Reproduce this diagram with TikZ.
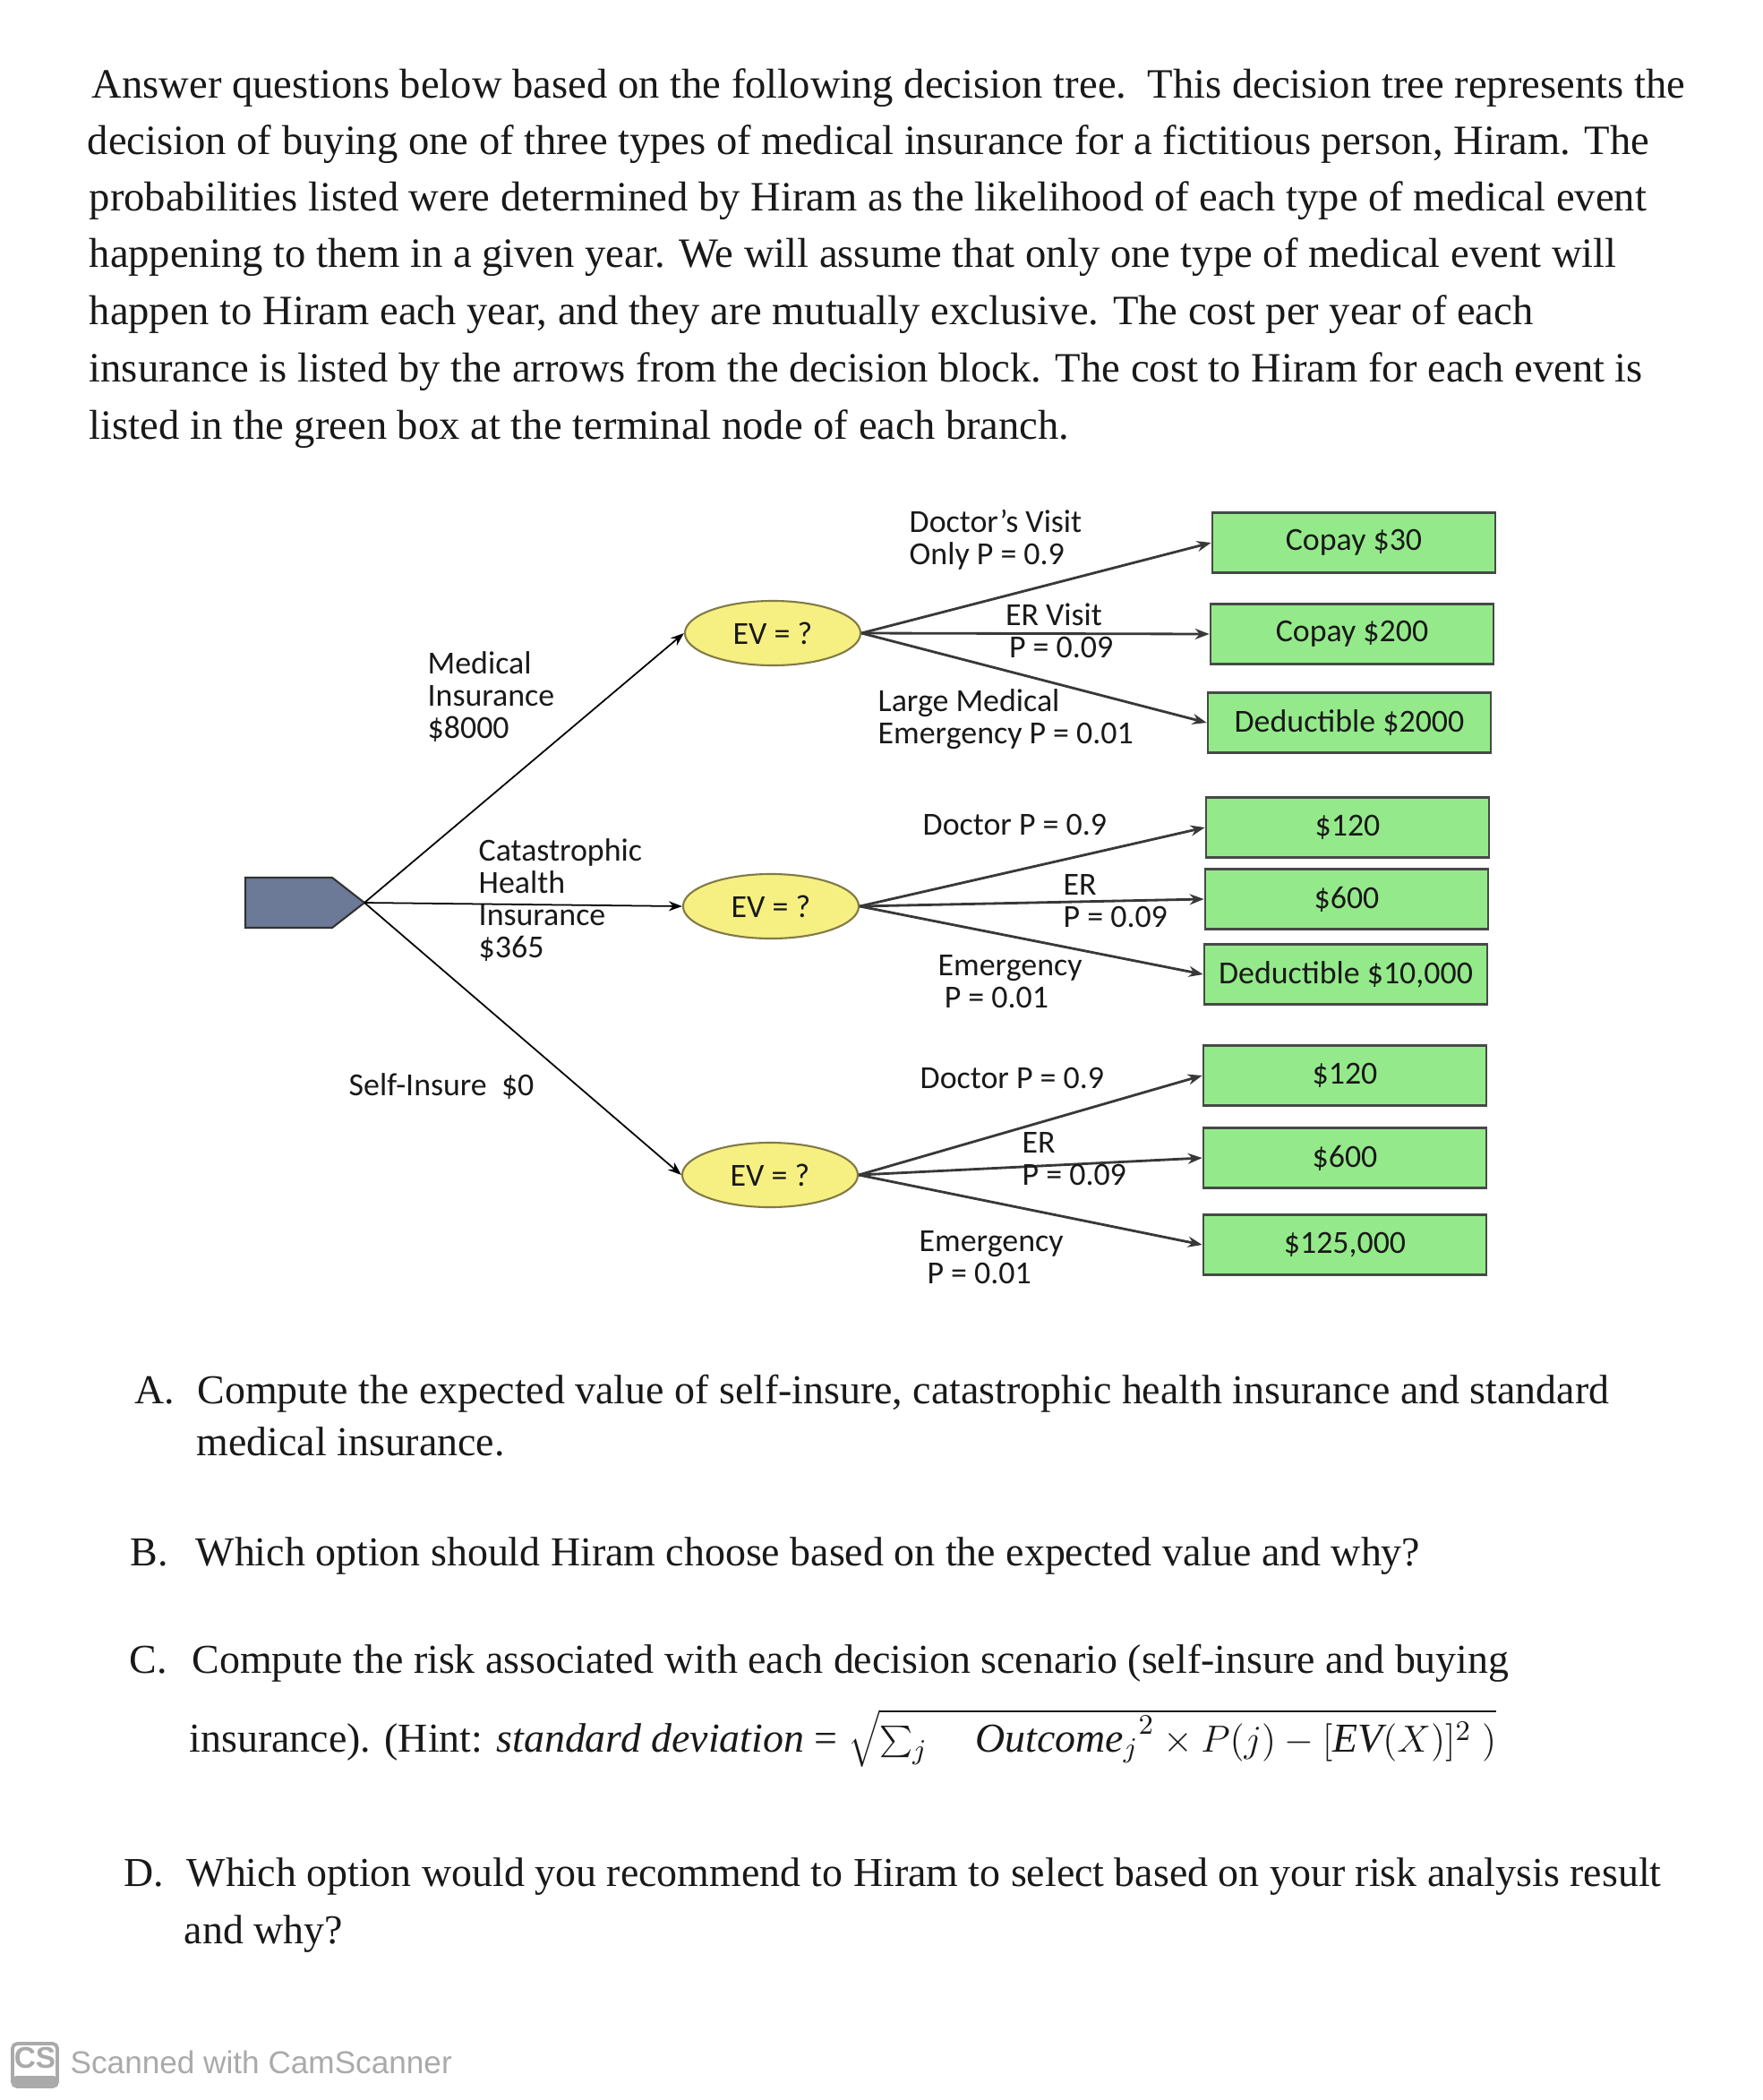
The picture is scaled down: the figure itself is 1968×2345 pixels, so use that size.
\documentclass[tikz,border=0pt]{standalone}
\usepackage{fontspec}
\setmainfont{Liberation Serif}
\newfontfamily\calib{Carlito}
\newfontfamily\camfont{Liberation Sans}
\usetikzlibrary{arrows.meta,shapes.geometric}
\definecolor{evfill}{RGB}{246,240,130}
\definecolor{evdraw}{RGB}{130,122,70}
\definecolor{boxfill}{RGB}{148,234,138}
\definecolor{boxdraw}{RGB}{70,74,70}
\definecolor{decfill}{RGB}{108,122,152}
\definecolor{ink}{RGB}{25,25,25}
\definecolor{camgray}{RGB}{170,170,170}
\begin{document}
\begin{tikzpicture}[x=0.01cm,y=-0.01cm,
  body/.style={anchor=base west, inner sep=0, text=ink, font=\fontsize{13.25}{15}\selectfont},
  quest/.style={anchor=base west, inner sep=0, text=ink, font=\fontsize{13.05}{15}\selectfont},
  lbl/.style={font=\calib\fontsize{10.2}{10.2}\selectfont, inner sep=0, align=left, anchor=west, text=ink},
  evnode/.style={ellipse, draw=evdraw, fill=evfill, line width=0.6pt, minimum width=1.96cm, minimum height=0.72cm, inner sep=0, font=\calib\fontsize{10.2}{12}\selectfont, text=ink},
  term/.style={rectangle, draw=boxdraw, fill=boxfill, line width=0.7pt, minimum width=3.16cm, minimum height=0.67cm, inner sep=0, font=\calib\fontsize{10.2}{12}\selectfont, text=ink},
  mainarrow/.style={-{Stealth[length=0.15cm,width=0.11cm]}, line width=0.5pt, draw=black},
  brancharrow/.style={-{Stealth[length=0.16cm,width=0.12cm]}, line width=0.8pt, draw=black!78}
]
\fill[white] (0,0) rectangle (1968,2345);
\useasboundingbox (0,0) rectangle (1968,2345);

% ---- paragraph ----
\node[body] (p1) at (102,109) {Answer questions below based on the following decision tree.\ \ This decision tree represents the};
\node[body] (p2) at (97,172) {decision of buying one of three types of medical insurance for a fictitious person, Hiram. The};
\node[body] (p3) at (99,235) {probabilities listed were determined by Hiram as the likelihood of each type of medical event};
\node[body] (p4) at (99,298) {happening to them in a given year. We will assume that only one type of medical event will};
\node[body] (p5) at (99,362) {happen to Hiram each year, and they are mutually exclusive. The cost per year of each};
\node[body] (p6) at (99,426) {insurance is listed by the arrows from the decision block. The cost to Hiram for each event is};
\node[body] (p7) at (99,490) {listed in the green box at the terminal node of each branch.};

% ---- decision block ----
\filldraw[fill=decfill, draw=black!80, line width=0.6pt] (274,980) -- (371,980) -- (407,1008) -- (371,1036) -- (274,1036) -- cycle;
\coordinate (dec) at (407,1008);

% ---- chance nodes ----
\node[evnode] (ev1) at (863,707) {EV = ?};
\node[evnode] (ev2) at (861,1012) {EV = ?};
\node[evnode] (ev3) at (860,1312) {EV = ?};

% ---- terminal boxes ----
\node[term] (b1) at (1512,606) {Copay \$30};
\node[term] (b2) at (1510,708) {Copay \$200};
\node[term] (b3) at (1507,807) {Deductible \$2000};
\node[term] (b4) at (1505,924) {\$120};
\node[term] (b5) at (1504,1004) {\$600};
\node[term] (b6) at (1503,1088) {Deductible \$10,000};
\node[term] (b7) at (1502,1201) {\$120};
\node[term] (b8) at (1502,1293) {\$600};
\node[term] (b9) at (1502,1390) {\$125,000};

% ---- connectors ----
\draw[mainarrow] (dec) -- (ev1.west);
\draw[mainarrow] (dec) -- (ev2.west);
\draw[mainarrow] (dec) -- (ev3.west);
\draw[brancharrow] (ev1.east) -- (b1.west);
\draw[brancharrow] (ev1.east) -- (b2.west);
\draw[brancharrow] (ev1.east) -- (b3.west);
\draw[brancharrow] (ev2.east) -- (b4.west);
\draw[brancharrow] (ev2.east) -- (b5.west);
\draw[brancharrow] (ev2.east) -- (b6.west);
\draw[brancharrow] (ev3.east) -- (b7.west);
\draw[brancharrow] (ev3.east) -- (b8.west);
\draw[brancharrow] (ev3.east) -- (b9.west);

% ---- labels ----
\node[lbl] (lmed) at (477,778) {Medical\\Insurance\\\$8000};
\node[lbl] (lcat) at (534,1005) {Catastrophic\\Health\\Insurance\\\$365};
\node[lbl] (lself) at (389,1213) {Self-Insure\ \ \$0};
\node[lbl] (l11) at (1015,603) {Doctor’s Visit\\Only P = 0.9};
\node[lbl, align=center, anchor=center] (l12) at (1177,704) {ER Visit\\\ \ P = 0.09};
\node[lbl] (l13) at (980,803) {Large Medical\\Emergency P = 0.01};
\node[lbl] (l21) at (1030,921) {Doctor P = 0.9};
\node[lbl] (l22) at (1187,1006) {ER\\P = 0.09};
\node[lbl] (l23) at (1047,1096) {Emergency\\\hspace{2pt}P = 0.01};
\node[lbl] (l31) at (1027,1204) {Doctor P = 0.9};
\node[lbl] (l32) at (1141,1294) {ER\\P = 0.09};
\node[lbl] (l33) at (1026,1404) {Emergency\\\hspace{2.5pt}P = 0.01};

% ---- questions ----
\node[quest] (qa) at (150,1567) {A.};
\node[quest] (qa1) at (220,1567) {Compute the expected value of self-insure, catastrophic health insurance and standard};
\node[quest] (qa2) at (219,1625) {medical insurance.};
\node[quest] (qb) at (145,1748) {B.};
\node[quest] (qb1) at (218,1748) {Which option should Hiram choose based on the expected value and why?};
\node[quest] (qc) at (144,1868) {C.};
\node[quest] (qc1) at (214,1868) {Compute the risk associated with each decision scenario (self-insure and buying};
\node[quest] (qc2) at (211,1956) {insurance). (Hint: \textit{standard deviation} = $\sqrt{\sum_j\quad {\mathit{Outcome}_j}^{2}\times P(j)-[\mathit{EV}(X)]^2\ )}$};
\node[quest] (qd) at (138,2106) {D.};
\node[quest] (qd1) at (208,2106) {Which option would you recommend to Hiram to select based on your risk analysis result};
\node[quest] (qd2) at (205,2170) {and why?};

% ---- footer ----
\draw[camgray, line width=1.1pt, rounded corners=1.5pt] (14,2282) rectangle (64,2330);
\fill[camgray, rounded corners=1.2pt] (14,2318) rectangle (64,2330);
\node[inner sep=0, text=camgray, font=\camfont\bfseries\fontsize{9.5}{10}\selectfont] (cs) at (39,2298) {CS};
\node[inner sep=0, anchor=west, text=camgray, font=\camfont\fontsize{10}{12}\selectfont] (cam) at (78,2303) {Scanned with CamScanner};
\end{tikzpicture}
\end{document}
